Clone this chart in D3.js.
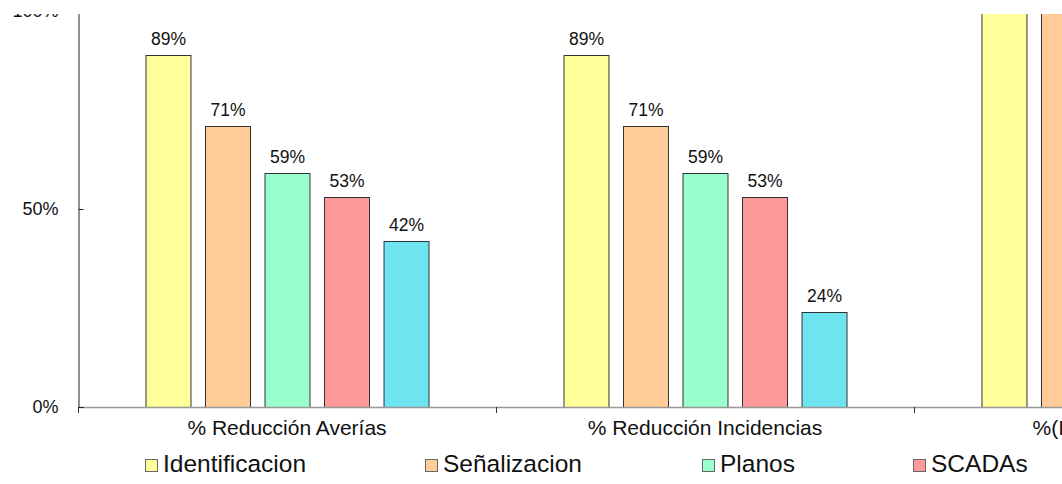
<!DOCTYPE html>
<html>
<head>
<meta charset="utf-8">
<script src="https://cdn.jsdelivr.net/npm/d3@7"></script>
<style>
  body { margin: 0; background: #fff; }
  svg { display: block; font-family: "Liberation Sans", Arial, sans-serif; }
</style>
</head>
<body>
<div id="chart"></div>
<script>
// data
var categories = ["% Reducción Averías", "% Reducción Incidencias", "%(Incremento Uso)"];
var series = ["Identificacion", "Señalizacion", "Planos", "SCADAs", "Telemando"];
var colors = ["#FFFF99", "#FFCC99", "#99FFCC", "#FF9999", "#6EE4F0"];
var values = [
    [89, 71, 59, 53, 42],
    [89, 71, 59, 53, 24],
    [120, 115, 105, 100, 95]
];
var yTicks = [0, 50, 100];

var svgWidth = 1062;
var svgHeight = 484;

var plotLeft = 78, plotTop = 11, plotBottom = 407;
var catWidth = 418;

var svg = d3.select("#chart")
    .append("svg")
    .attr("width", svgWidth)
    .attr("height", svgHeight);

var xscale = d3.scaleBand()
    .domain(categories)
    .range([plotLeft, plotLeft + catWidth * categories.length])
    .padding(0);

var inner = d3.scaleBand()
    .domain(series)
    .range([0, catWidth])
    .paddingInner(0.244)
    .paddingOuter(1.134);

var yscale = d3.scaleLinear().domain([0, 100]).range([plotBottom, plotTop]);

svg.append("defs").append("clipPath").attr("id", "plotclip")
    .append("rect")
    .attr("x", plotLeft).attr("y", plotTop)
    .attr("width", svgWidth).attr("height", plotBottom - plotTop);

// bars
var groups = svg.append("g").attr("clip-path", "url(#plotclip)")
    .selectAll("g")
    .data(categories)
    .enter()
    .append("g")
    .attr("transform", d => `translate(${xscale(d)},0)`);

groups.selectAll("rect")
    .data((d, i) => values[i].map((v, j) => ({s: series[j], v: v, c: colors[j]})))
    .enter()
    .append("rect")
    .attr("x", d => inner(d.s) + 0.5)
    .attr("y", d => Math.round(yscale(d.v)) + 0.5)
    .attr("width", inner.bandwidth())
    .attr("height", d => plotBottom - Math.round(yscale(d.v)))
    .attr("fill", d => d.c)
    .attr("stroke", "#333")
    .attr("stroke-width", 1);

groups.selectAll("text")
    .data((d, i) => values[i].map((v, j) => ({s: series[j], v: v})))
    .enter()
    .append("text")
    .attr("x", d => inner(d.s) + inner.bandwidth() / 2 + 0.5)
    .attr("y", d => yscale(d.v) - 10)
    .attr("text-anchor", "middle")
    .attr("font-size", "17.5px")
    .attr("fill", "#111")
    .text(d => d.v + "%");

// x axis
svg.append("line")
    .attr("x1", plotLeft).attr("x2", svgWidth)
    .attr("y1", plotBottom + 0.5).attr("y2", plotBottom + 0.5)
    .attr("stroke", "#999").attr("stroke-width", 1.5);

svg.selectAll(".xtick")
    .data(categories.concat(["end"]))
    .enter()
    .append("line")
    .attr("class", "xtick")
    .attr("x1", (d, i) => plotLeft + i * catWidth + 0.5)
    .attr("x2", (d, i) => plotLeft + i * catWidth + 0.5)
    .attr("y1", plotBottom).attr("y2", plotBottom + 6)
    .attr("stroke", "#333");

svg.selectAll(".xlabel")
    .data(categories)
    .enter()
    .append("text")
    .attr("class", "xlabel")
    .attr("x", d => xscale(d) + xscale.bandwidth() / 2)
    .attr("y", 435)
    .attr("text-anchor", "middle")
    .attr("font-size", "21px")
    .attr("fill", "#111")
    .text(d => d);

// y axis
var yAxis = d3.axisLeft(yscale)
    .tickValues(yTicks)
    .tickSize(-5)
    .tickPadding(20)
    .tickFormat(d => d + "%");

var yg = svg.append("g")
    .attr("transform", `translate(${plotLeft + 0.5},0)`)
    .call(yAxis);
yg.select(".domain").attr("stroke", "#222");
yg.selectAll(".tick line").attr("stroke", "#222");
yg.selectAll(".tick text")
    .attr("font-size", "18px")
    .attr("font-family", "Liberation Sans, Arial, sans-serif")
    .attr("fill", "#111");

// legend
var legendX = [145, 425, 702, 913, 1124];
var legend = svg.selectAll(".legend")
    .data(series)
    .enter()
    .append("g")
    .attr("class", "legend")
    .attr("transform", (d, i) => `translate(${legendX[i]},459)`);

legend.append("rect")
    .attr("x", 0.5).attr("y", 0.5)
    .attr("width", 12).attr("height", 12)
    .attr("fill", (d, i) => colors[i])
    .attr("stroke", "#666");

legend.append("text")
    .attr("x", 18)
    .attr("y", 12.5)
    .attr("font-size", "24.5px")
    .attr("fill", "#111")
    .text(d => d);

// top strip of the picture is blank
svg.append("rect")
    .attr("x", 0).attr("y", 0)
    .attr("width", svgWidth).attr("height", 14)
    .attr("fill", "#fff");
</script>
</body>
</html>
